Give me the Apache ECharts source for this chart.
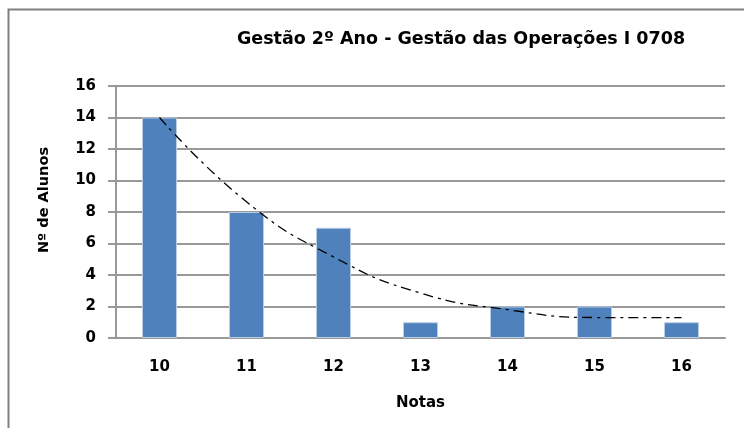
<!DOCTYPE html>
<html>
<head>
<meta charset="utf-8">
<script src="https://cdn.jsdelivr.net/npm/echarts@6/dist/echarts.min.js"></script>
<style>
  html, body { margin: 0; padding: 0; background: #fff; }
  #chart { width: 744px; height: 428px; }
</style>
</head>
<body>
<div id="chart"></div>
<script>
// dados
const notas = ['10', '11', '12', '13', '14', '15', '16'];
const alunos = [14, 8, 7, 1, 2, 2, 1];
// linha de tendência (estimada da imagem)
const tendencia = [14.0, 8.65, 5.15, 2.85, 1.8, 1.3, 1.3];
const yTicks = [0, 2, 4, 6, 8, 10, 12, 14, 16];

const fonte = '"DejaVu Sans", Verdana, sans-serif';
let myChart = echarts.init(document.getElementById('chart'));

let option = {
    animation: false,
    title: {
        text: 'Gestão 2º Ano - Gestão das Operações I 0708',
        left: 456, top: 25, textAlign: 'center',
        textStyle: { fontFamily: fonte, fontSize: 17.5, fontWeight: 'bold', color: '#000' }
    },
    graphic: [{
        type: 'rect',
        shape: { x: 8.5, y: 9.5, width: 800, height: 500 },
        style: { fill: 'none', stroke: '#808080', lineWidth: 2 },
        silent: true
    }],
    grid: { left: 116, right: 19, top: 86, bottom: 90 },
    xAxis: {
        type: 'category',
        data: notas,
        name: 'Notas',
        nameLocation: 'middle',
        nameGap: 58,
        nameTextStyle: { fontFamily: fonte, fontSize: 15, fontWeight: 'bold', color: '#000' },
        axisLine: { lineStyle: { color: '#999', width: 2 } },
        axisTick: { show: false },
        axisLabel: { margin: 22, fontFamily: fonte, fontSize: 15, fontWeight: 'bold', color: '#000' }
    },
    yAxis: {
        type: 'value',
        min: yTicks[0], max: yTicks[yTicks.length - 1], interval: 2,
        name: 'Nº de Alunos',
        nameLocation: 'middle',
        nameGap: 64,
        nameTextStyle: { fontFamily: fonte, fontSize: 14.5, fontWeight: 'bold', color: '#000', padding: [0, 0, 0, 24] },
        axisLine: { show: true, lineStyle: { color: '#999', width: 2 } },
        axisTick: { show: true, inside: false, length: 8, lineStyle: { color: '#999', width: 2 } },
        axisLabel: { margin: 20, fontFamily: fonte, fontSize: 15, fontWeight: 'bold', color: '#000' },
        splitLine: { lineStyle: { color: '#999', width: 2 } }
    },
    series: [{
        type: 'bar',
        data: alunos,
        barWidth: 35,
        itemStyle: { color: '#4f81bd', borderColor: '#b9cde5', borderWidth: 1 }
    }, {
        type: 'line',
        data: tendencia,
        smooth: true,
        symbol: 'none',
        z: 5,
        lineStyle: { color: '#000', width: 1.3, type: [10, 5, 3, 5] }
    }]
};
myChart.setOption(option);
</script>
</body>
</html>
